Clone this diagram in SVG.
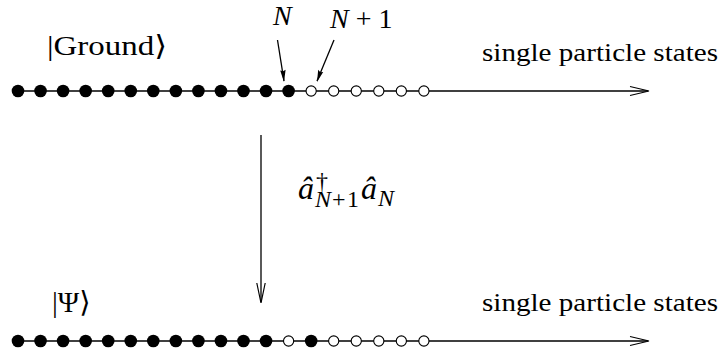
<svg xmlns="http://www.w3.org/2000/svg" width="723" height="352" viewBox="0 0 723 352">
<style>
.ln{stroke:#000;stroke-width:1.3;fill:none}
.ah{stroke:#000;stroke-width:1.2;fill:none;stroke-linejoin:miter}
.f{fill:#000}
.o{fill:#fff;stroke:#000;stroke-width:1.1}
.i{font-style:italic}
.t{font-family:"Liberation Serif","DejaVu Serif",serif;fill:#000}
</style>
<defs>
<circle id="fd" r="6.3" class="f"/>
<circle id="od" r="5.1" class="o"/>
</defs>
<g id="top-row">
<line class="ln" x1="18" y1="91" x2="648" y2="91"/>
<polyline class="ah" points="630,86.5 649,91 630,95.5"/>
<use href="#fd" x="18" y="91"/><use href="#fd" x="40.55" y="91"/><use href="#fd" x="63.1" y="91"/><use href="#fd" x="85.65" y="91"/><use href="#fd" x="108.2" y="91"/><use href="#fd" x="130.75" y="91"/><use href="#fd" x="153.3" y="91"/><use href="#fd" x="175.85" y="91"/><use href="#fd" x="198.4" y="91"/><use href="#fd" x="220.95" y="91"/><use href="#fd" x="243.5" y="91"/><use href="#fd" x="266.05" y="91"/><use href="#fd" x="288.6" y="91"/>
<use href="#od" x="311.15" y="91"/><use href="#od" x="333.7" y="91"/><use href="#od" x="356.25" y="91"/><use href="#od" x="378.8" y="91"/><use href="#od" x="401.35" y="91"/><use href="#od" x="423.9" y="91"/>
</g>
<g id="bottom-row">
<line class="ln" x1="18" y1="341" x2="648" y2="341"/>
<polyline class="ah" points="630,336.5 649,341 630,345.5"/>
<use href="#fd" x="18" y="341"/><use href="#fd" x="40.55" y="341"/><use href="#fd" x="63.1" y="341"/><use href="#fd" x="85.65" y="341"/><use href="#fd" x="108.2" y="341"/><use href="#fd" x="130.75" y="341"/><use href="#fd" x="153.3" y="341"/><use href="#fd" x="175.85" y="341"/><use href="#fd" x="198.4" y="341"/><use href="#fd" x="220.95" y="341"/><use href="#fd" x="243.5" y="341"/><use href="#fd" x="266.05" y="341"/>
<use href="#od" x="288.6" y="341"/><use href="#fd" x="311.15" y="341"/>
<use href="#od" x="333.7" y="341"/><use href="#od" x="356.25" y="341"/><use href="#od" x="378.8" y="341"/><use href="#od" x="401.35" y="341"/><use href="#od" x="423.9" y="341"/>
</g>
<g id="connectors">
<line class="ln" x1="277.5" y1="40" x2="284" y2="81"/>
<polygon class="f" points="284,82 280.2,70.5 283,71.3 285.6,69.8"/>
<line class="ln" x1="334" y1="40" x2="317" y2="81"/>
<polygon class="f" points="317,82 318.2,69.8 320.3,72.2 323.2,72"/>
<line class="ln" x1="261" y1="135" x2="261" y2="302"/>
<polyline class="ah" points="256.8,283 261,303 265.2,283"/>
</g>
<g id="labels">
<text class="t" x="47" y="55" font-size="28" textLength="120" lengthAdjust="spacingAndGlyphs">|Ground⟩</text>
<text class="t i" x="273" y="25" font-size="28">N</text>
<text class="t" x="330" y="28" font-size="28"><tspan class="i">N</tspan> + 1</text>
<text class="t" x="482" y="61" font-size="26" textLength="236" lengthAdjust="spacingAndGlyphs">single particle states</text>
<text class="t" x="482" y="311" font-size="26" textLength="236" lengthAdjust="spacingAndGlyphs">single particle states</text>
<text class="t" x="52" y="312" font-size="29">|Ψ⟩</text>
<text class="t" font-size="32"><tspan class="i" x="298" y="199">â</tspan><tspan font-size="24" x="316" y="189">†</tspan><tspan class="i" font-size="24" x="315" y="207">N</tspan><tspan font-size="24" x="332" y="207">+</tspan><tspan font-size="24" x="347" y="207">1</tspan><tspan class="i" x="361" y="199">â</tspan><tspan class="i" font-size="24" x="378" y="206">N</tspan></text>
</g>
</svg>
